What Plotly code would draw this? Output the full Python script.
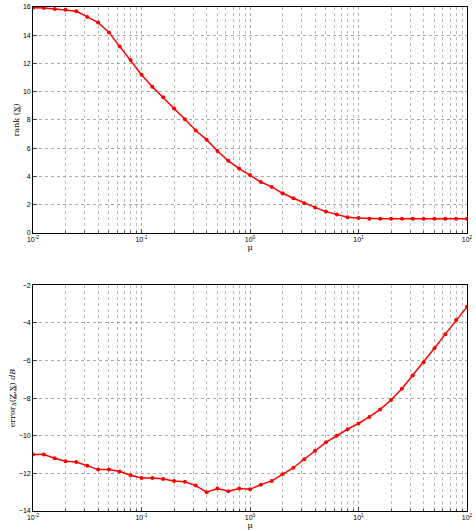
import plotly.graph_objects as go
from plotly.subplots import make_subplots

# mu sampled 10 per decade from 1e-2 to 1e2
mu = [10 ** (k / 10) for k in range(-20, 21)]

rank_x = [15.95, 15.93, 15.85, 15.8, 15.7, 15.3, 14.9, 14.2, 13.2, 12.25, 11.2,
          10.35, 9.6, 8.8, 8.05, 7.25, 6.6, 5.8, 5.1, 4.55, 4.1,
          3.6, 3.25, 2.8, 2.45, 2.1, 1.8, 1.5, 1.3, 1.1, 1.05,
          1.0, 1.0, 1.0, 1.0, 1.0, 1.0, 1.0, 1.0, 1.0, 1.0]

error_db = [-11.0, -11.0, -11.2, -11.35, -11.4, -11.6, -11.8, -11.8, -11.9, -12.1, -12.25,
            -12.25, -12.3, -12.4, -12.45, -12.65, -13.0, -12.8, -12.95, -12.8, -12.85,
            -12.6, -12.4, -12.05, -11.7, -11.25, -10.8, -10.35, -10.0, -9.65, -9.35,
            -9.0, -8.6, -8.1, -7.5, -6.8, -6.1, -5.35, -4.6, -3.85, -3.15]

major = [0.01, 0.1, 1, 10, 100]
major_text = ["10<sup>-2</sup>", "10<sup>-1</sup>", "10<sup>0</sup>", "10<sup>1</sup>", "10<sup>2</sup>"]
minor = [m * d for d in [0.01, 0.1, 1, 10] for m in range(2, 10)]

fig = make_subplots(rows=2, cols=1, vertical_spacing=0.104)

line = dict(color="red", width=1.5)
marker = dict(color="red", size=4, symbol="circle")
fig.add_trace(go.Scatter(x=mu, y=rank_x, mode="lines+markers", line=line, marker=marker), row=1, col=1)
fig.add_trace(go.Scatter(x=mu, y=error_db, mode="lines+markers", line=line, marker=marker), row=2, col=1)

xax = dict(type="log", range=[-2, 2], tickvals=major, ticktext=major_text,
           showgrid=True, gridcolor="#aaa", griddash="dot", gridwidth=0.7,
           minor=dict(tickvals=minor, showgrid=True, gridcolor="#bbb", griddash="dot", gridwidth=0.7,
                      ticks="inside", ticklen=2),
           ticks="inside", ticklen=4, showline=True, linecolor="black", linewidth=0.8, mirror=True,
           zeroline=False, tickfont=dict(size=7),
           title=dict(text="μ", font=dict(size=8, family="DejaVu Serif"), standoff=0))
fig.update_xaxes(**xax)

yax = dict(showgrid=True, gridcolor="#aaa", griddash="dot", gridwidth=0.7,
           ticks="inside", ticklen=4, showline=True, linecolor="black", linewidth=0.8, mirror=True,
           zeroline=False, tickfont=dict(size=7), dtick=2)
fig.update_yaxes(**yax)
fig.update_yaxes(range=[0, 16], row=1, col=1,
                 title=dict(text="rank (<u>X</u>)", font=dict(size=8, family="DejaVu Serif"), standoff=2))
fig.update_yaxes(range=[-14, -2], row=2, col=1,
                 title=dict(text="error<sub>Δ</sub>(<u>Z</u>,<u>X</u>) <i>dB</i>",
                            font=dict(size=8, family="DejaVu Serif"), standoff=2))

fig.update_layout(width=476, height=530, showlegend=False,
                  plot_bgcolor="white", paper_bgcolor="white",
                  margin=dict(l=33, r=8, t=3, b=16),
                  font=dict(family="Liberation Sans", color="black"))
fig.update_layout(yaxis=dict(domain=[0.552, 1]), yaxis2=dict(domain=[0, 0.448]))

# drop the default page margin so the figure fits the window exactly
fig.write_html("out.html", config={"displayModeBar": False},
               post_script="document.body.style.margin='0';document.body.style.overflow='hidden';")
